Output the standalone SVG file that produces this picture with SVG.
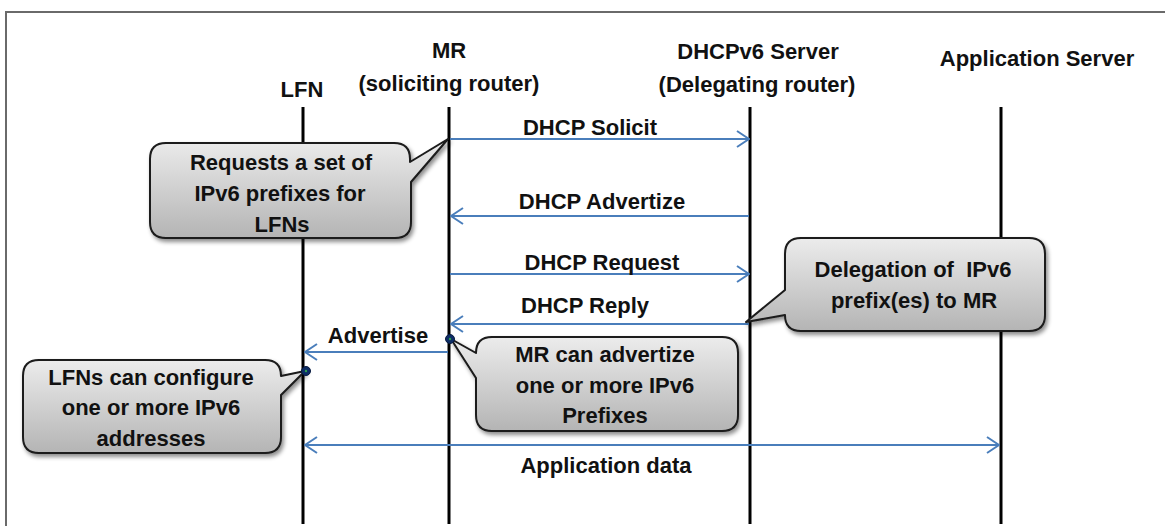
<svg xmlns="http://www.w3.org/2000/svg" width="1165" height="526" viewBox="0 0 1165 526">
<style>
  text { font-family: "Liberation Sans", Arial, sans-serif; font-weight: bold; font-size: 22px; fill: #111; text-anchor: middle; }
  .life { stroke: #000; stroke-width: 3; fill: none; }
  .msg { stroke: #4a7ebb; stroke-width: 2; fill: none; }
  .call { fill: url(#cg); stroke: #1a1a1a; stroke-width: 2; filter: url(#sh); stroke-linejoin: round; }
  .frame { stroke: #6a6a6a; stroke-width: 2; fill: none; }
</style>
<defs>
  <linearGradient id="cg" x1="0" y1="0" x2="0" y2="1">
    <stop offset="0" stop-color="#ececec"/>
    <stop offset="1" stop-color="#b4b4b4"/>
  </linearGradient>
  <filter id="sh" x="-10%" y="-10%" width="125%" height="135%">
    <feDropShadow dx="2" dy="3" stdDeviation="2" flood-color="#000" flood-opacity="0.45"/>
  </filter>
  <marker id="ah" viewBox="0 0 14 18" refX="13" refY="9" markerWidth="14" markerHeight="18" markerUnits="userSpaceOnUse" orient="auto-start-reverse">
    <path d="M1,1 L13,9 L1,17" fill="none" stroke="#4a7ebb" stroke-width="2"/>
  </marker>
</defs>
<rect width="1165" height="526" fill="#fff"/>
<path class="frame" d="M6,526 V12 H1165"/>

<g id="lfn">
  <text x="302" y="97">LFN</text>
  <line class="life" x1="303" y1="107" x2="303" y2="524"/>
</g>
<g id="mr">
  <text x="449" y="58">MR</text>
  <text x="449" y="91">(soliciting router)</text>
  <line class="life" x1="449" y1="107" x2="449" y2="524"/>
</g>
<g id="dhcp">
  <text x="758" y="59">DHCPv6 Server</text>
  <text x="757" y="92">(Delegating router)</text>
  <line class="life" x1="750" y1="107" x2="750" y2="524"/>
</g>
<g id="appserver">
  <text x="1037" y="66">Application Server</text>
  <line class="life" x1="1001" y1="107" x2="1001" y2="524"/>
</g>

<g id="connectors">
  <line class="msg" x1="450" y1="139" x2="749" y2="139" marker-end="url(#ah)"/>
  <text x="590" y="135">DHCP Solicit</text>
  <line class="msg" x1="749" y1="216" x2="451" y2="216" marker-end="url(#ah)"/>
  <text x="602" y="209">DHCP Advertize</text>
  <line class="msg" x1="450" y1="274" x2="749" y2="274" marker-end="url(#ah)"/>
  <text x="602" y="270">DHCP Request</text>
  <line class="msg" x1="749" y1="324" x2="451" y2="324" marker-end="url(#ah)"/>
  <text x="585" y="313">DHCP Reply</text>
  <line class="msg" x1="448" y1="352" x2="305" y2="352" marker-end="url(#ah)"/>
  <text x="378" y="343">Advertise</text>
  <line class="msg" x1="305" y1="445" x2="999" y2="445" marker-start="url(#ah)" marker-end="url(#ah)"/>
  <text x="606" y="473">Application data</text>
</g>

<g id="callout-request">
  <path class="call" d="M166,143 H394 Q410,143 410,159 V162 L448,139 L411,182 V222 Q411,238 395,238 H166 Q150,238 150,222 V159 Q150,143 166,143 Z"/>
  <text x="281" y="170">Requests a set of</text>
  <text x="280" y="201">IPv6 prefixes for</text>
  <text x="282" y="232">LFNs</text>
</g>
<g id="callout-delegation">
  <path class="call" d="M801,238 H1029 Q1045,238 1045,254 V315 Q1045,331 1029,331 H801 Q785,331 785,315 L746,322 L785,290 V254 Q785,238 801,238 Z"/>
  <text x="913" y="277" xml:space="preserve">Delegation of  IPv6</text>
  <text x="914" y="308">prefix(es) to MR</text>
</g>
<g id="callout-advertize">
  <path class="call" d="M492,337 H722 Q738,337 738,353 V415 Q738,431 722,431 H492 Q476,431 476,415 V378 L451,339 L476,353 Q476,337 492,337 Z"/>
  <text x="605" y="362">MR can advertize</text>
  <text x="605" y="393">one or more IPv6</text>
  <text x="605" y="423">Prefixes</text>
</g>
<g id="callout-configure">
  <path class="call" d="M39,360 H265 Q281,360 281,376 L305,371 L281,395 V437 Q281,453 265,453 H39 Q23,453 23,437 V376 Q23,360 39,360 Z"/>
  <text x="151" y="385">LFNs can configure</text>
  <text x="151" y="415">one or more IPv6</text>
  <text x="151" y="446">addresses</text>
</g>

<g id="dots">
  <circle cx="450" cy="339" r="4.5" fill="#0e2d66" stroke="#071a40" stroke-width="1"/>
  <circle cx="450" cy="339" r="1.2" fill="#2fa050"/>
  <circle cx="306" cy="371" r="4.5" fill="#0e2d66" stroke="#071a40" stroke-width="1"/>
  <circle cx="306" cy="371" r="1.2" fill="#2fa050"/>
</g>
</svg>
